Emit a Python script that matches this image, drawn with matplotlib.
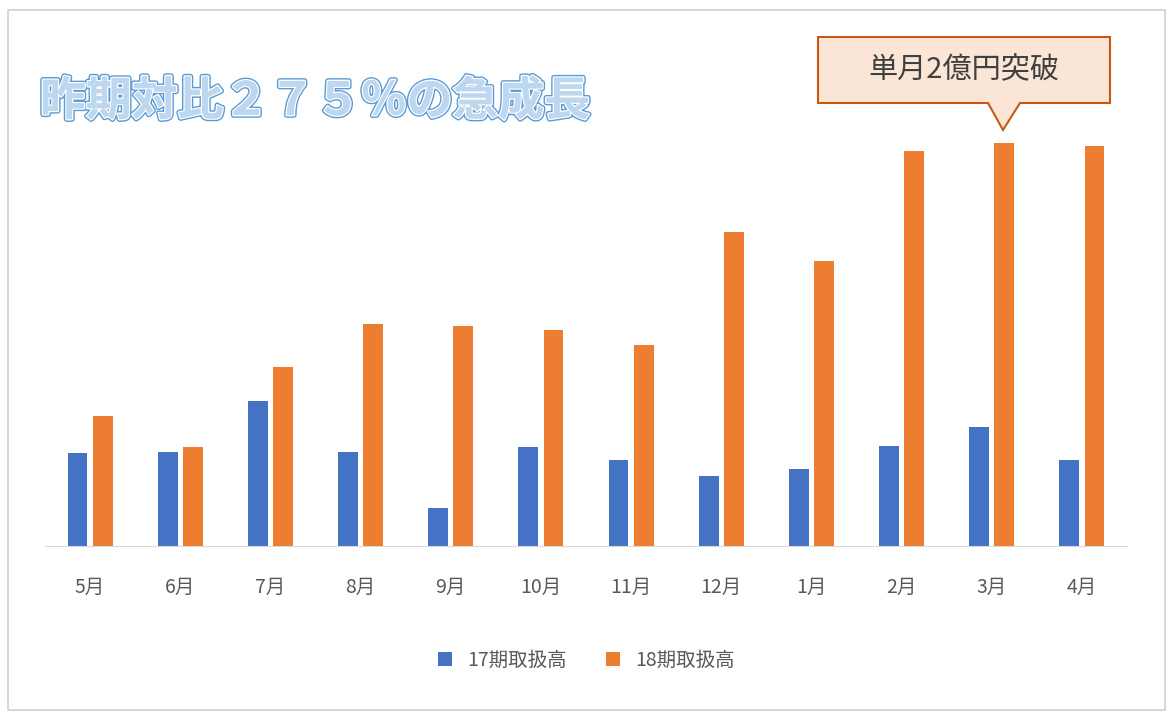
import numpy as np
import matplotlib.pyplot as plt
import matplotlib.patheffects as pe
from matplotlib.patches import Polygon, Rectangle

plt.rcParams["font.family"] = "Noto Sans CJK JP"

months = ["5月", "6月", "7月", "8月", "9月", "10月", "11月", "12月", "1月", "2月", "3月", "4月"]
ki17 = [93, 94, 145, 94, 38, 99, 86, 70, 77, 100, 119, 86]
ki18 = [130, 99, 179, 222, 220, 216, 201, 314, 285, 395, 403, 400]

W, H = 1173, 718
fig = plt.figure(figsize=(W / 100, H / 100), dpi=100)

# outer frame
fig.patches.append(Rectangle((8 / W, 8 / H), 1157 / W, 700 / H, transform=fig.transFigure,
                             fill=False, edgecolor="#d0d0d0", linewidth=1.2))

ax = fig.add_axes([45 / W, (H - 546) / H, 1082 / W, 420 / H])
x = np.arange(len(months))
w = 0.22
ax.bar(x - 0.14, ki17, w, color="#4472C4", label="17期取扱高")
ax.bar(x + 0.14, ki18, w, color="#ED7D31", label="18期取扱高")
ax.set_xlim(-0.5, len(months) - 0.5)
ax.set_ylim(0, 420)
ax.set_yticks([])
ax.set_xticks(x)
ax.set_xticklabels(months, fontsize=14, color="#595959")
ax.tick_params(axis="x", length=0, pad=22)
for s in ["top", "right", "left"]:
    ax.spines[s].set_visible(False)
ax.spines["bottom"].set_color("#d9d9d9")

fig.legend(loc="center", bbox_to_anchor=(0.5, (H - 660) / H), ncol=2, frameon=False,
           fontsize=14, labelcolor="#595959", handlelength=0.7, handleheight=0.7,
           columnspacing=2.0)

# title
t = fig.text(40 / W, (H - 102) / H, "昨期対比２７５％の急成長", fontsize=33, fontweight="bold",
             color="#BDD7EE", va="center", ha="left")
t.set_path_effects([pe.withStroke(linewidth=4, foreground="#5B9BD5"),
                    pe.withStroke(linewidth=2, foreground="white"),
                    pe.Normal()])

# callout
pts = [(818, 37), (1110, 37), (1110, 103), (1020, 103), (1003, 130), (988, 103), (818, 103)]
fig.patches.append(Polygon([(px / W, (H - py) / H) for px, py in pts], closed=True,
                           transform=fig.transFigure, facecolor="#FBE5D6",
                           edgecolor="#C55A11", linewidth=1.5))
fig.text(964 / W, (H - 70) / H, "単月2億円突破", fontsize=21, color="#404040",
         ha="center", va="center")

plt.savefig("out.png", dpi=100)
